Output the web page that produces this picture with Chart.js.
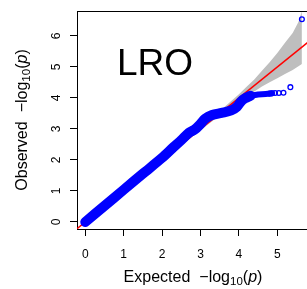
<!DOCTYPE html>
<html>
<head>
<meta charset="utf-8">
<script src="https://cdn.jsdelivr.net/npm/chart.js@4.4.1/dist/chart.umd.min.js"></script>
<style>
  html, body { margin: 0; padding: 0; background: #fff; }
  #wrap { width: 307px; height: 289px; }
</style>
</head>
<body>
<div id="wrap"><canvas id="qq" width="307" height="289"></canvas></div>
<script>
// --- values ---
const panelLabel = 'LRO';

// dense run of points (expected vs observed -log10 p)
const denseExpected = [0.00, 0.50, 1.00, 1.50, 2.00, 2.30, 2.50, 2.70, 2.85, 3.00, 3.12, 3.30, 3.55, 3.80, 3.95, 4.05, 4.15, 4.30];
const denseObserved = [0.00, 0.52, 1.04, 1.56, 2.07, 2.42, 2.64, 2.88, 2.98, 3.16, 3.33, 3.45, 3.52, 3.60, 3.72, 3.88, 3.98, 4.07];

// thinner run before the last points
const tailExpected = [4.30, 4.50, 4.70, 4.86];
const tailObserved = [4.07, 4.11, 4.13, 4.15];

// separate points at the top end
const topExpected = [4.80, 4.86, 4.94, 5.04, 5.16, 5.34, 5.64];
const topObserved = [4.14, 4.15, 4.16, 4.16, 4.17, 4.35, 6.54];

// grey 95% band
const bandExpected = [2.60, 3.00, 3.40, 3.80, 4.00, 4.20, 4.40, 4.60, 4.80, 5.00, 5.20, 5.40, 5.55, 5.64];
const bandUpper    = [2.63, 3.04, 3.47, 3.90, 4.12, 4.36, 4.60, 4.88, 5.15, 5.45, 5.78, 6.10, 6.45, 6.80];
const bandLower    = [2.57, 2.96, 3.34, 3.71, 3.89, 4.05, 4.21, 4.37, 4.51, 4.64, 4.77, 4.90, 5.02, 5.10];

// y = x reference line
const refLine = [-1, 7];

const xTickValues = [0, 1, 2, 3, 4, 5];
const yTickValues = [0, 1, 2, 3, 4, 5, 6];

const FONT = '"Liberation Sans", Arial, Helvetica, sans-serif';

function pts(xs, ys) {
    return xs.map((x, i) => ({ x: x, y: ys[i] }));
}

// axis title like R plotmath: word ~~ -log[10](italic(p))
function drawMathTitle(ctx, word, size) {
    const parts = [
        { text: word },
        { gap: 9 },
        { text: '\u2212' },
        { text: 'log' },
        { text: '10', sub: true },
        { text: '(' },
        { text: 'p', italic: true },
        { text: ')' }
    ];
    let total = 0;
    parts.forEach(p => {
        if (p.gap) { p.w = p.gap; total += p.gap; return; }
        const s = p.sub ? size * 0.72 : size;
        p.font = (p.italic ? 'italic ' : '') + s + 'px ' + FONT;
        ctx.font = p.font;
        p.w = ctx.measureText(p.text).width;
        total += p.w;
    });
    let x = -total / 2;
    ctx.textAlign = 'left';
    ctx.textBaseline = 'alphabetic';
    ctx.fillStyle = '#000';
    parts.forEach(p => {
        if (!p.gap) {
            ctx.font = p.font;
            ctx.fillText(p.text, x, p.sub ? size * 0.22 : 0);
        }
        x += p.w;
    });
}

const decorPlugin = {
    id: 'decor',
    afterDraw(chart) {
        const ctx = chart.ctx;
        const a = chart.chartArea;
        ctx.save();
        // top edge of the box
        ctx.strokeStyle = '#000';
        ctx.lineWidth = 1;
        ctx.beginPath();
        ctx.moveTo(a.left, a.top + 0.5);
        ctx.lineTo(a.right, a.top + 0.5);
        ctx.stroke();

        // panel label
        ctx.font = '37px ' + FONT;
        ctx.fillStyle = '#000';
        ctx.textAlign = 'left';
        ctx.textBaseline = 'alphabetic';
        ctx.fillText(panelLabel, 117, 75);

        // x title
        ctx.save();
        ctx.translate((a.left + a.right) / 2 + 1, 281.5);
        drawMathTitle(ctx, 'Expected', 16);
        ctx.restore();

        // y title
        ctx.save();
        ctx.translate(26.5, (a.top + a.bottom) / 2);
        ctx.rotate(-Math.PI / 2);
        drawMathTitle(ctx, 'Observed', 16);
        ctx.restore();
        ctx.restore();
    }
};

function noPad(s) {
    s.paddingTop = 0;
    s.paddingBottom = 0;
    s.paddingLeft = 0;
    s.paddingRight = 0;
}

new Chart(document.getElementById('qq'), {
    type: 'scatter',
    data: {
        datasets: [
            {
                data: pts(topExpected, topObserved),
                pointRadius: 2.4,
                pointBorderWidth: 1.3,
                pointBorderColor: '#0000ff',
                pointBackgroundColor: 'rgba(0,0,0,0)',
                order: 1
            },
            {
                data: pts(denseExpected, denseObserved),
                showLine: true,
                borderColor: '#0000ff',
                borderWidth: 10,
                borderCapStyle: 'round',
                borderJoinStyle: 'round',
                tension: 0.3,
                pointRadius: 0,
                order: 1
            },
            {
                data: pts(tailExpected, tailObserved),
                showLine: true,
                borderColor: '#0000ff',
                borderWidth: 6,
                borderCapStyle: 'round',
                borderJoinStyle: 'round',
                pointRadius: 0,
                order: 1
            },
            {
                data: pts(refLine, refLine),
                showLine: true,
                borderColor: '#ff0000',
                borderWidth: 1.5,
                pointRadius: 0,
                order: 2
            },
            {
                data: pts(bandExpected, bandUpper),
                showLine: true,
                borderWidth: 0,
                pointRadius: 0,
                backgroundColor: 'rgb(190,190,190)',
                fill: '+1',
                order: 3
            },
            {
                data: pts(bandExpected, bandLower),
                showLine: true,
                borderWidth: 0,
                pointRadius: 0,
                order: 4
            }
        ]
    },
    options: {
        responsive: false,
        devicePixelRatio: 1,
        animation: false,
        layout: { autoPadding: false, padding: { top: 11, right: 0, left: 0, bottom: 0 } },
        plugins: {
            legend: { display: false },
            tooltip: { enabled: false }
        },
        scales: {
            x: {
                type: 'linear',
                min: -0.216,
                max: 5.773,
                afterBuildTicks: s => { s.ticks = xTickValues.map(v => ({ value: v })); },
                afterFit: s => { s.height = 60; noPad(s); },
                grid: { display: true, drawOnChartArea: false, drawTicks: true, tickLength: 7, color: '#000', lineWidth: 1 },
                border: { display: true, color: '#000', width: 1 },
                ticks: { color: '#000', font: { family: FONT, size: 12 }, padding: 11, maxRotation: 0 }
            },
            y: {
                type: 'linear',
                min: -0.226,
                max: 6.806,
                afterBuildTicks: s => { s.ticks = yTickValues.map(v => ({ value: v })); },
                afterFit: s => { s.width = 77; noPad(s); },
                grid: { display: true, drawOnChartArea: false, drawTicks: true, tickLength: 7, color: '#000', lineWidth: 1 },
                border: { display: true, color: '#000', width: 1 },
                ticks: { color: '#000', font: { family: FONT, size: 12 }, padding: 10, minRotation: 90, maxRotation: 90, crossAlign: 'center' }
            }
        }
    },
    plugins: [decorPlugin]
});
</script>
</body>
</html>
